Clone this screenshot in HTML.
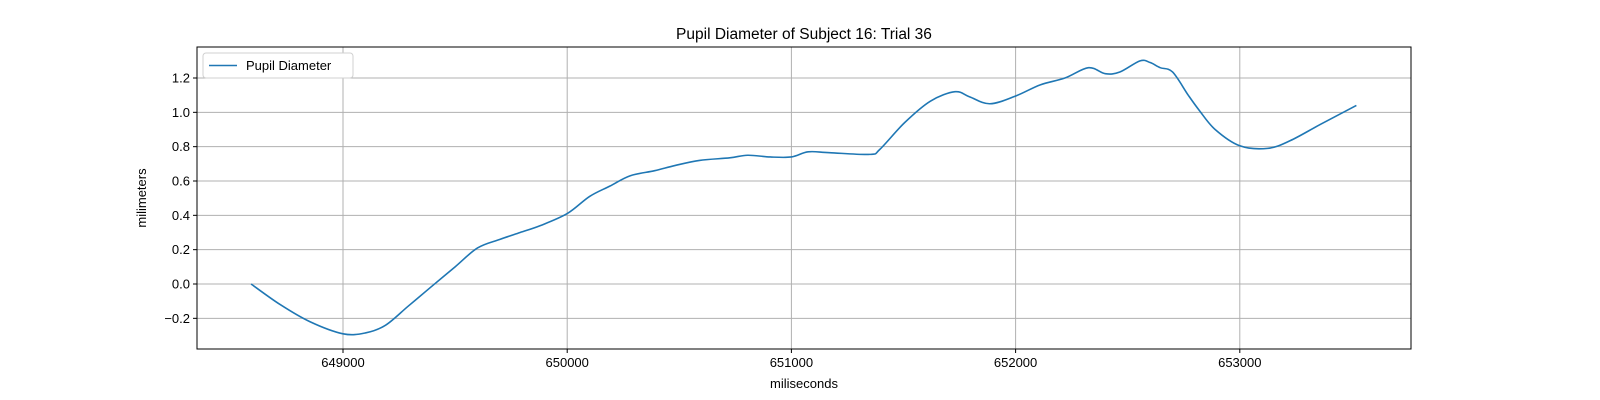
<!DOCTYPE html>
<html><head><meta charset="utf-8"><style>
html,body{margin:0;padding:0;background:#fff;}
svg{display:block;font-family:"Liberation Sans","DejaVu Sans",sans-serif;}
</style></head><body>
<svg id="chart" width="1600" height="400"></svg>
<script>
const timesMs = [648590,648720,648853,649000,649100,649190,649290,649390,649500,649600,649700,649790,649880,650000,650100,650190,650280,650390,650480,650590,650725,650805,650905,651000,651075,651170,651350,651395,651505,651620,651730,651795,651885,652000,652110,652220,652325,652400,652465,652555,652600,652645,652700,652770,652820,652890,653000,653125,653225,653360,653520];
const diameters = [0,-0.12,-0.22,-0.29,-0.285,-0.24,-0.13,-0.02,0.10,0.21,0.26,0.30,0.34,0.41,0.51,0.57,0.63,0.66,0.69,0.72,0.735,0.75,0.74,0.74,0.77,0.765,0.755,0.785,0.94,1.065,1.12,1.09,1.05,1.095,1.16,1.20,1.26,1.225,1.235,1.30,1.29,1.26,1.235,1.10,1.01,0.90,0.805,0.79,0.835,0.93,1.04];
const xTicks = [649000,650000,651000,652000,653000];
const yTicks = [-0.2,0.0,0.2,0.4,0.6,0.8,1.0,1.2];

const NS="http://www.w3.org/2000/svg";
const svg=document.getElementById('chart');
const L=197,R=1411,T=47,B=349;
const xs=v=>343+(v-649000)*0.2242;
const ys=v=>284-v*171.67;
function mk(tag,attrs,parent){const e=document.createElementNS(NS,tag);for(const k in attrs)e.setAttribute(k,attrs[k]);(parent||svg).appendChild(e);return e;}

const grid=mk('g',{});


xTicks.forEach(t=>{
  const x=xs(t);
  mk('line',{x1:x,x2:x,y1:T,y2:B,stroke:'#b0b0b0','stroke-width':1},grid);
  mk('line',{x1:x,x2:x,y1:B,y2:B+4,stroke:'#000','stroke-width':1});
  const tx=mk('text',{x:x,y:B+18,'text-anchor':'middle','font-size':13,fill:'#000'});
  tx.textContent=t;
  
  
});
yTicks.forEach(t=>{
  const y=ys(t);
  mk('line',{x1:L,x2:R,y1:y,y2:y,stroke:'#b0b0b0','stroke-width':1},grid);
  mk('line',{x1:L-4,x2:L,y1:y,y2:y,stroke:'#000','stroke-width':1});
  const tx=mk('text',{x:L-7,y:y+4.5,'text-anchor':'end','font-size':13,fill:'#000'});
  tx.textContent=(t<0?'\u2212':'')+Math.abs(t).toFixed(1);
  
  
});

// smooth path (Catmull-Rom)
const pts=timesMs.map((t,i)=>[xs(t),ys(diameters[i])]);
let d='M'+pts[0][0]+','+pts[0][1];
for(let i=0;i<pts.length-1;i++){
  const p0=pts[i-1]||pts[i],p1=pts[i],p2=pts[i+1],p3=pts[i+2]||p2;
  const c1=[p1[0]+(p2[0]-p0[0])/6,p1[1]+(p2[1]-p0[1])/6];
  const c2=[p2[0]-(p3[0]-p1[0])/6,p2[1]-(p3[1]-p1[1])/6];
  d+=`C${c1[0]},${c1[1]} ${c2[0]},${c2[1]} ${p2[0]},${p2[1]}`;
}
const line=mk('path',{d:d,fill:'none',stroke:'#1f77b4','stroke-width':1.6});



const frame=mk('rect',{x:L,y:T,width:R-L,height:B-T,fill:'none',stroke:'#000','stroke-width':1});



const title=mk('text',{x:(L+R)/2,y:39,'text-anchor':'middle','font-size':15.5,fill:'#000'});
title.textContent='Pupil Diameter of Subject 16: Trial 36';



const xl=mk('text',{x:(L+R)/2,y:388,'text-anchor':'middle','font-size':13,fill:'#000'});
xl.textContent='miliseconds';



const yl=mk('text',{x:146,y:(T+B)/2,'text-anchor':'middle','font-size':13,fill:'#000',transform:`rotate(-90 146 ${(T+B)/2})`});
yl.textContent='milimeters';



const lg=mk('g',{});


mk('rect',{x:203,y:53,width:150,height:25,rx:3,fill:'#fff',stroke:'#d0d0d0','stroke-width':1},lg);
mk('line',{x1:209,x2:237,y1:65.5,y2:65.5,stroke:'#1f77b4','stroke-width':1.6},lg);
const lt=mk('text',{x:246,y:70,'font-size':13,fill:'#000'},lg);
lt.textContent='Pupil Diameter';


</script>
</body></html>
